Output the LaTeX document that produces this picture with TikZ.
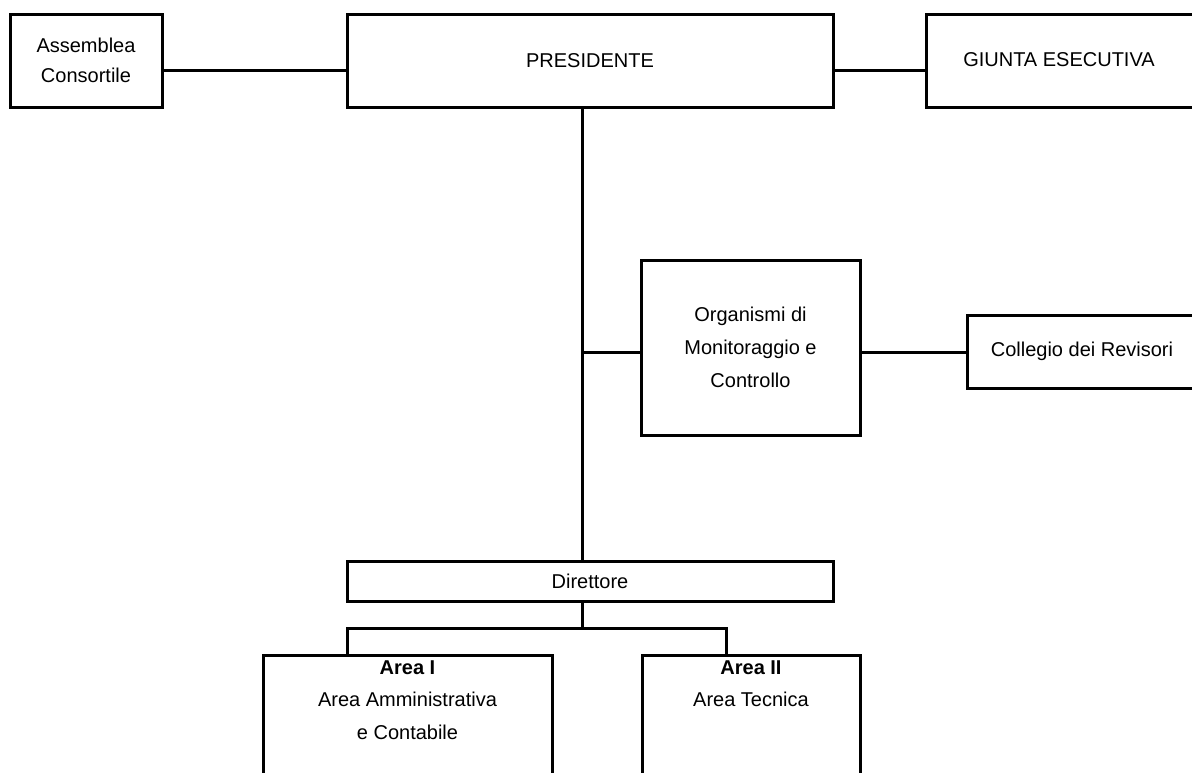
\documentclass[tikz,border=0pt]{standalone}
\usepackage{fontspec}
\setmainfont{Liberation Sans}
\begin{document}
\begin{tikzpicture}[x=1pt,y=-1pt, line width=3pt,
  box/.style={draw, rectangle, inner sep=0pt, outer sep=0pt, line join=miter},
  lbl/.style={font=\fontsize{20}{30}\selectfont, align=center, inner sep=0pt},
  conn/.style={line width=3pt, line join=miter}]
\fill[white] (0,0) rectangle (1192,772);
\useasboundingbox (0,0) rectangle (1192,772);

% top row
\node[box, lbl, minimum width=152pt, minimum height=93pt] (ass) at (86,60.5) {Assemblea\\Consortile};
\node[box, lbl, minimum width=486pt, minimum height=93pt] (pres) at (590,60.5) {PRESIDENTE};
\node[box, lbl, minimum width=270pt, minimum height=93pt] (giunta) at (1061,60.5) {};
\node[lbl] (giuntat) at (1059,60) {GIUNTA ESECUTIVA};

% middle
\node[box, lbl, font=\fontsize{20}{33}\selectfont, minimum width=219pt, minimum height=175pt] (org) at (750.5,347.5) {Organismi di\\Monitoraggio e\\Controllo};
\node[box, minimum width=230pt, minimum height=73pt] (coll) at (1082,351.5) {};
\node[lbl] (collt) at (1082,351) {Collegio dei Revisori};

% director
\node[box, lbl, minimum width=486pt, minimum height=40pt] (dir) at (590,581) {Direttore};

% areas
\node[box, minimum width=289pt, minimum height=140pt] (area1) at (407.5,725) {};
\node[lbl, font=\fontsize{20}{32.5}\selectfont] (area1t) at (407.5,700) {\textbf{Area I}\\Area Amministrativa\\e Contabile};
\node[box, minimum width=218pt, minimum height=140pt] (area2) at (751,725) {};
\node[lbl, font=\fontsize{20}{32}\selectfont] (area2t) at (751,684) {\textbf{Area II}\\Area Tecnica};

% connectors
\coordinate (j1) at (582,352);
\coordinate (jt) at (0,70);
\coordinate (bar) at (582,628);
\coordinate (bl) at (347,628);
\coordinate (br) at (726,628);

\draw[conn] (ass.east |- jt) -- (pres.west |- jt);
\draw[conn] (pres.east |- jt) -- (giunta.west |- jt);
\draw[conn] (pres.south -| j1) -- (dir.north -| j1);
\draw[conn] (j1) -- (org.west |- j1);
\draw[conn] (org.east |- j1) -- (coll.west |- j1);
\draw[conn] (dir.south -| bar) -- (bar);
\draw[conn] (area1.north -| bl) -- (bl) -- (br) -- (area2.north -| br);
\end{tikzpicture}
\end{document}
